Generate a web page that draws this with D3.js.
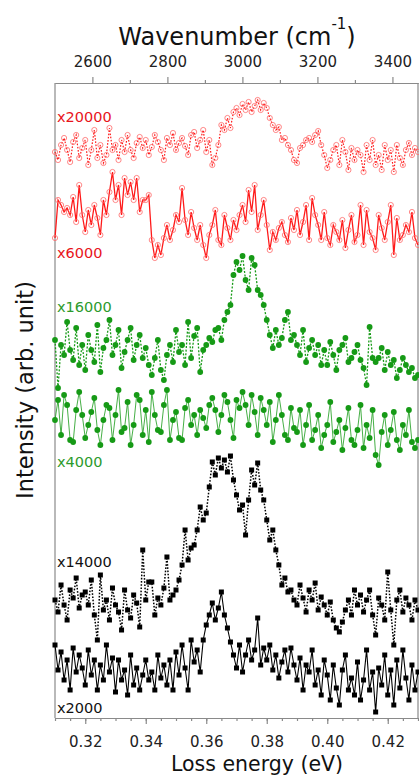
<!DOCTYPE html>
<html>
<head>
<meta charset="utf-8">
<script src="https://cdn.jsdelivr.net/npm/d3@7"></script>
<style>
  body { margin: 0; background: #fff; }
  svg { display: block; font-family: 'DejaVu Sans', sans-serif; }
</style>
</head>
<body>
<svg width="419" height="780"></svg>
<script>
// loss energy grid (eV), 1 meV steps
const energy = d3.range(121).map(i => +(0.310 + i * 0.001).toFixed(3))
const EV_TO_CM = 8065.54

const labels = ['x20000', 'x6000', 'x16000', 'x4000', 'x14000', 'x2000']
// vertical offsets of each spectrum (arb. unit)
const offsets = [568, 488, 368, 298, 118, 48]

// spectra, relative intensity (arb. unit)
const s20000 = [
  -2, -10, 5, 12, 0, -12, 8, 15, -8, 2,
  10, -15, 0, 20, -8, 5, -13, -5, 22, 0,
  5, -10, 10, -2, 15, 0, -8, 7, 13, 2,
  10, -5, 3, 15, 8, 0, -10, 12, 5, 17,
  0, 7, 12, 4, -5, 15, 18, 2, 10, 20,
  -2, 10, -15, -8, 5, 25, 20, 32, 22, 38,
  42, 35, 46, 40, 48, 38, 44, 50, 40, 47,
  42, 32, 25, 20, 23, 10, 12, 5, 0, -10,
  -13, 2, 5, 10, 12, 8, 15, 19, 5, -5,
  -18, -10, 0, 5, -15, 10, -2, -20, 2, -10,
  0, -5, -22, 5, -10, 10, -15, -5, -20, 5,
  -10, 0, -22, 5, -8, -15, 0, 7, -5, 2,
  -2
]
const s6000 = [
  -8, 30, 25, 18, 22, 15, 33, 8, 45, 15,
  -2, 20, 5, 25, 12, -5, 30, 15, 38, 58,
  30, 45, 15, 52, 35, 48, 30, 52, 18, 30,
  30, 35, -10, -28, -15, -25, -8, 5, -10, 0,
  15, 8, 42, 10, -5, 18, 2, -10, 5, -15,
  -28, -5, 5, 20, -10, -15, 15, 2, -10, 10,
  0, 15, 25, 8, 40, 18, 45, 0, 15, 30,
  5, -20, -2, -10, 2, 8, -5, -12, 12, 0,
  20, -5, 8, 25, -10, 32, 15, 5, -10, 18,
  -8, -15, 5, -2, -10, 10, -18, 0, 15, -12,
  -5, 25, -15, 20, -2, -8, -20, 15, 2, -10,
  8, 25, -25, 12, -10, -5, 5, -2, 18, -8,
  -15
]
const s16000 = [
  10, -38, 5, -5, 28, 0, -10, 22, -15, 5,
  -20, 15, 0, -12, 25, -22, 2, 10, 30, -5,
  5, 20, -18, -2, 10, 22, -10, 5, 15, -8,
  2, -15, -25, -8, 10, -20, -30, -5, 5, -12,
  20, -2, 5, -15, 28, -8, 14, 22, -22, 0,
  5, 12, 8, 20, 22, 10, 30, 38, 45, 75,
  88, 80, 94, 70, 60, 92, 85, 60, 55, 45,
  30, 15, 2, 20, 5, 12, 30, 38, 10, 15,
  5, -5, 20, -12, 2, 10, -5, 5, -15, 0,
  -15, 8, -5, -20, 0, 5, 12, -12, -8, -2,
  5, -10, -18, -35, 23, -8, -12, -8, 2, -20,
  -2, -15, -10, -28, -20, -8, -15, -22, -18, -28,
  -25
]
const s4000 = [
  0, 20, -15, 25, 15, -20, -22, 10, 28, 5,
  -18, -5, 8, 22, -10, -25, 0, 15, 12, -20,
  5, 30, -12, -8, 18, -25, -5, 25, 20, -15,
  10, -22, 28, 5, -10, -12, 15, 30, -20, 0,
  8, -18, -20, 12, 20, -5, 5, -15, 10, 2,
  -8, 15, 22, 10, -12, 5, 25, 18, 0, -18,
  20, 12, 28, 15, -5, 25, 8, -15, 22, 10,
  -5, 18, -22, 0, 25, 5, -15, -20, 12, -8,
  -12, 10, -25, -5, 15, -20, -10, 5, -28, -15,
  -5, 18, -22, -12, 0, -30, -8, 12, -20, -25,
  -10, 15, -28, -5, -18, 10, -35, -45, -12, 5,
  -25, -10, 8, -20, -30, -5, -15, 10, -22, -28,
  -20
]
const s14000 = [
  0, -12, 15, -5, -20, 10, 2, 22, -8, 5,
  8, -5, 20, -15, -40, 25, -10, 0, -20, 12,
  -5, -12, -30, 10, -10, -18, 5, -3, -27, 50,
  0, 18, 18, -15, 2, -5, 12, 43, 0, 5,
  10, 20, 35, 70, 40, 52, 55, 70, 93, 80,
  87, 113, 138, 125, 142, 132, 140, 128, 144, 120,
  105, 90, 95, 65, 100, 130, 115, 137, 110, 100,
  80, 60, 70, 50, 35, 15, 22, 8, 10, 0,
  -5, 15, 2, -12, 10, 0, 17, -10, 3, -5,
  -15, -2, -20, -28, -32, -22, -10, 0, -15, 10,
  -5, 5, -12, 0, 10, -15, -35, 2, -5, -20,
  28, -10, -45, 0, 10, -12, 2, -5, -20, 0,
  -10
]
const s2000 = [
  25, 0, 18, -10, 10, -20, 22, -2, 15, 2,
  -15, 20, -5, 10, -20, 5, -10, 25, -2, 12,
  -22, 10, -10, 0, -25, 15, -15, 2, -20, -5,
  10, -10, -2, -20, 15, -8, 5, -15, 10, -20,
  18, -5, 25, 2, -20, 30, 8, 20, -2, 30,
  45, 55, 67, 50, 62, 78, 55, 42, 28, 15,
  2, 25, -2, 15, 30, 10, 20, 52, 5, 22,
  10, 25, 0, 15, -8, 8, 20, -2, 22, 5,
  -10, 12, -20, 5, -2, 20, -15, 0, -25, 10,
  -5, -30, 5, -18, -35, 0, 15, -20, -8, -25,
  8, -30, -10, 20, -20, -2, -42, 2, -15, 15,
  -25, 0, -35, 10, -18, 20, -8, -30, 5, -20,
  -2
]
const spectra = [s20000, s6000, s16000, s4000, s14000, s2000]

const bottomTicks = [0.32, 0.34, 0.36, 0.38, 0.40, 0.42]
const topTicks = [2600, 2800, 3000, 3200, 3400]

// look of each trace
const red = '#ff1a1a', green = '#169a16', black = '#000'
const styles = [
  { color: red, text: '#e8141b', dash: '1.6,1.6', width: 1.2, marker: 'open' },
  { color: red, text: '#e8141b', dash: null, width: 1.3, marker: 'open' },
  { color: green, text: '#2c9a2c', dash: '2,1.6', width: 1.3, marker: 'dot' },
  { color: green, text: '#2c9a2c', dash: null, width: 0.8, marker: 'dot' },
  { color: black, text: '#111', dash: '1.6,1.6', width: 1.5, marker: 'square' },
  { color: black, text: '#111', dash: null, width: 1.1, marker: 'square' }
]
const labelPos = [[57, 122], [57, 258], [57, 312], [57, 467], [57, 567], [57, 713]]

const svg = d3.select('svg')
const plotL = 55, plotR = 418, plotT = 83, plotB = 718

const x = d3.scaleLinear().domain([0.31, 0.43]).range([plotL, plotR])
const xTop = d3.scaleLinear().domain([0.31 * EV_TO_CM, 0.43 * EV_TO_CM]).range([plotL, plotR])
const y = d3.scaleLinear().domain([0, 635]).range([plotB, plotT])

// frame
const frame = svg.append('g').attr('stroke', '#8a8a8a').attr('stroke-width', 1.2)
frame.append('line').attr('x1', plotL).attr('x2', plotL).attr('y1', plotT).attr('y2', plotB)
frame.append('line').attr('x1', plotR).attr('x2', plotR).attr('y1', plotT).attr('y2', plotB)

// bottom axis
svg.append('g')
  .attr('transform', `translate(0,${plotB})`)
  .call(d3.axisBottom(x).tickValues(d3.range(0.31, 0.4301, 0.005)).tickSize(3).tickFormat('').tickSizeOuter(0))
svg.append('g')
  .attr('class', 'ax')
  .attr('transform', `translate(0,${plotB})`)
  .call(d3.axisBottom(x).tickValues(bottomTicks).tickSize(6).tickPadding(12).tickFormat(d3.format('.2f')).tickSizeOuter(0))

// top axis
svg.append('g')
  .attr('transform', `translate(0,${plotT})`)
  .call(d3.axisTop(xTop).tickValues([2700, 2900, 3100, 3300]).tickSize(3).tickFormat('').tickSizeOuter(0))
svg.append('g')
  .attr('class', 'ax')
  .attr('transform', `translate(0,${plotT})`)
  .call(d3.axisTop(xTop).tickValues(topTicks).tickSize(6).tickPadding(10).tickFormat(d3.format('d')).tickSizeOuter(0))

svg.selectAll('.domain').attr('stroke', '#8a8a8a').attr('stroke-width', 1.2)
svg.selectAll('.tick line').attr('stroke', '#8a8a8a').attr('stroke-width', 1.2)
svg.selectAll('.ax text').attr('font-size', 15).attr('font-family', 'DejaVu Sans').attr('fill', '#222')

// titles
const topTitle = svg.append('text')
  .attr('x', 237).attr('y', 45)
  .attr('text-anchor', 'middle')
  .attr('font-size', 24).attr('fill', '#111')
topTitle.append('tspan').text('Wavenumber (cm')
topTitle.append('tspan').attr('font-size', 15).attr('dy', -16).text('-1')
topTitle.append('tspan').attr('dy', 16).text(')')

svg.append('text')
  .attr('x', 257).attr('y', 771)
  .attr('text-anchor', 'middle')
  .attr('font-size', 20.5).attr('fill', '#111')
  .text('Loss energy (eV)')

svg.append('text')
  .attr('transform', 'translate(33,390) rotate(-90)')
  .attr('text-anchor', 'middle')
  .attr('font-size', 22.5).attr('fill', '#111')
  .text('Intensity (arb. unit)')

// spectra
spectra.forEach((vals, k) => {
  const st = styles[k]
  const pts = vals.map((v, i) => ({ e: energy[i], v: offsets[k] + v }))
  const g = svg.append('g')

  g.append('path')
    .datum(pts)
    .attr('fill', 'none')
    .attr('stroke', st.color)
    .attr('stroke-width', st.width)
    .attr('stroke-dasharray', st.dash)
    .attr('d', d3.line().x(d => x(d.e)).y(d => y(d.v)))

  if (st.marker === 'square') {
    g.selectAll('rect')
      .data(pts)
      .enter()
      .append('rect')
      .attr('x', d => x(d.e) - 2.5)
      .attr('y', d => y(d.v) - 2.5)
      .attr('width', 5)
      .attr('height', 5)
      .attr('fill', st.color)
  } else {
    g.selectAll('circle')
      .data(pts)
      .enter()
      .append('circle')
      .attr('cx', d => x(d.e))
      .attr('cy', d => y(d.v))
      .attr('r', st.marker === 'open' ? 2.6 : 2.9)
      .attr('fill', st.marker === 'open' ? 'none' : st.color)
      .attr('stroke', st.marker === 'open' ? '#ff6b6b' : 'none')
      .attr('stroke-width', 0.8)
  }

  svg.append('text')
    .attr('x', labelPos[k][0]).attr('y', labelPos[k][1])
    .attr('font-size', 14.5)
    .attr('fill', st.text)
    .text(labels[k])
})
</script>
</body>
</html>
